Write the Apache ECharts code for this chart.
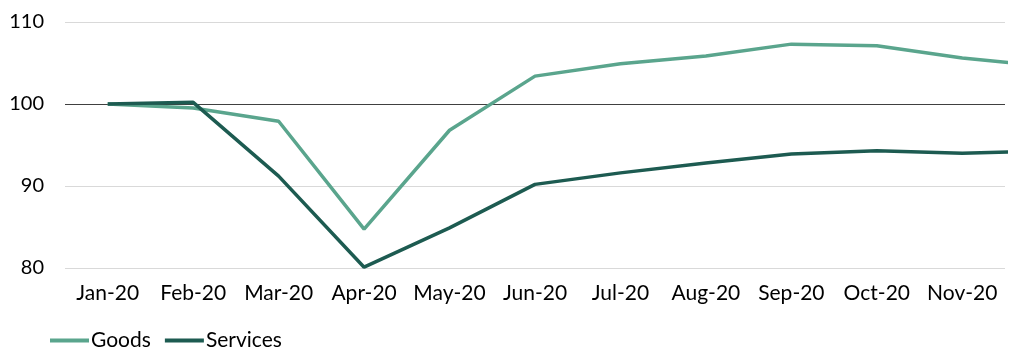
<!DOCTYPE html>
<html><head><meta charset="utf-8">
<script src="https://cdn.jsdelivr.net/npm/echarts@6/dist/echarts.min.js"></script>
<style>html,body{margin:0;padding:0;background:#fff}#c{width:1024px;height:358px}</style>
</head><body><div id="c"></div>
<script>
var categories = ['Jan-20','Feb-20','Mar-20','Apr-20','May-20','Jun-20','Jul-20','Aug-20','Sep-20','Oct-20','Nov-20'];
// last value is Dec-20, partially visible at right edge (clipped)
var goods    = [100, 99.5, 97.9, 84.75, 96.8, 103.4, 104.9, 105.85, 107.3, 107.1, 105.6, 104.6];
var services = [100, 100.2, 91.2, 80.1, 84.9, 90.2, 91.6, 92.8, 93.9, 94.3, 94.0, 94.3];
var yTicks = [80, 90, 100, 110];

function pts(arr){ return arr.map(function(v,i){ return [i+0.5, v]; }); }
var font = 'Lato';
var chart = echarts.init(document.getElementById('c'));
chart.setOption({
  animation:false,
  grid:{left:65, right:19, top:22, bottom:90, containLabel:false},
  legend:{
    left:45, top:325, itemWidth:39, itemHeight:4, itemGap:14,
    icon:'rect',
    textStyle:{fontFamily:font, fontSize:21, color:'#000', padding:[0,0,0,-3]},
    data:['Goods','Services']
  },
  xAxis:[
    {type:'category', data:categories, boundaryGap:true,
     axisLine:{show:false}, axisTick:{show:false},
     axisLabel:{fontFamily:font, fontSize:21, color:'#000', margin:15, interval:0}},
    {type:'value', min:0, max:11, show:false}
  ],
  yAxis:{type:'value', min:yTicks[0], max:yTicks[yTicks.length-1], interval:10,
    axisLine:{show:false}, axisTick:{show:false},
    axisLabel:{fontFamily:font, fontSize:20, color:'#000', margin:21},
    splitLine:{lineStyle:{color:['#d9d9d9','#d9d9d9','#404040','#d9d9d9'], width:1}}
  },
  series:[
    {name:'Goods', type:'line', xAxisIndex:1, data:pts(goods), symbol:'none', clip:true,
     lineStyle:{color:'#5aa58d', width:3.5}, itemStyle:{color:'#5aa58d'}},
    {name:'Services', type:'line', xAxisIndex:1, data:pts(services), symbol:'none', clip:true,
     lineStyle:{color:'#1d5b51', width:3.5}, itemStyle:{color:'#1d5b51'}}
  ]
});
</script></body></html>
